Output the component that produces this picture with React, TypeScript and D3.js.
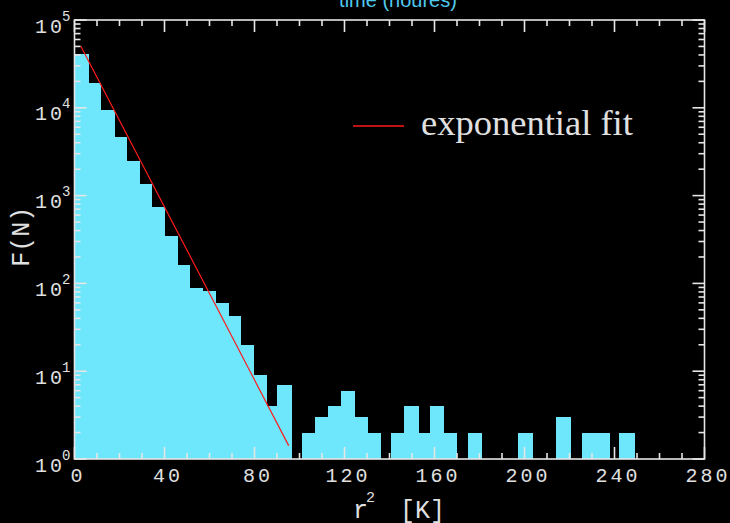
import React from 'react';
import * as d3 from 'd3';

// Histogram bins (r^2 in K) and counts
const binLo = [0, 6.1, 11.8, 17.6, 23.2, 28.8, 34.4, 40.1, 45.9, 51.3, 57.0, 62.7, 68.4, 74.0, 79.6, 85.4, 90.0,
  101.1, 106.9, 112.5, 118.3, 124.7, 130.1,
  140.7, 146.4, 152.8, 158.0, 164.2,
  174.7, 197.2, 214.0, 225.4, 231.5, 242.1];
const binHi = [6.1, 11.8, 17.6, 23.2, 28.8, 34.4, 40.1, 45.9, 51.3, 57.0, 62.7, 68.4, 74.0, 79.6, 85.4, 90.0, 96.4,
  106.9, 112.5, 118.3, 124.7, 130.1, 135.9,
  146.4, 152.8, 158.0, 164.2, 169.9,
  181.0, 203.6, 220.5, 231.5, 237.6, 249.0];
const counts = [41000, 19000, 9400, 4600, 2450, 1370, 740, 347, 162, 88, 83, 60, 42, 20, 9, 4, 7,
  2, 3, 4, 6, 3, 2,
  2, 4, 2, 4, 2,
  2, 2, 3, 2, 2, 2];

const xTickValues = [0, 40, 80, 120, 160, 200, 240, 280];
const xMinorStep = 10;
const yPowers = [0, 1, 2, 3, 4, 5];

// exponential fit (straight on log axis), endpoints
const fitX = [2.76, 95.2];
const fitY = [50600, 1.42];

const titleText = 'time (houres)';
const legendLabel = 'exponential fit';
const xTitleMain = 'r';
const xTitleSup = '2';
const xTitleUnit = '[K]';
const yTitle = 'F(N)';

const AX = '#e6e6e6';
const BAR = '#6ee6fb';
const MONO = '"Liberation Mono", "DejaVu Sans Mono", monospace';

export default function App() {
  const W = 730, H = 523;
  const x = d3.scaleLinear().domain([0, 280]).range([74.5, 704.5]);
  const y = d3.scaleLog().domain([1, 1e5]).range([459, 20]);
  const [x0, x1] = x.range();
  const [yb, yt] = y.range();

  const xMinor = d3.range(0, 281, xMinorStep).filter(v => !xTickValues.includes(v));
  const yMinor: number[] = [];
  for (let p = 0; p < 5; p++) for (let m = 2; m <= 9; m++) yMinor.push(m * Math.pow(10, p));

  const fitLine = d3.line<number>().x((d, i) => x(fitX[i])).y((d, i) => y(fitY[i]));

  return (
    <svg width={W} height={H} style={{ position: 'absolute', left: 0, top: 0, background: '#000', display: 'block' }}>
      <rect x={0} y={0} width={W} height={H} fill="#000" />
      <text x={398} y={7} fill="#4fc8ec" fontFamily='"Liberation Sans", Arial, sans-serif' fontSize={20} textAnchor="middle">{titleText}</text>

      {/* histogram */}
      <g shapeRendering="crispEdges">
        {counts.map((c, i) => (
          <rect key={i} x={x(binLo[i])} y={y(c)} width={x(binHi[i]) - x(binLo[i]) + 0.4} height={yb - y(c)} fill={BAR} />
        ))}
      </g>

      {/* fit line */}
      <path d={fitLine(fitX) || ''} stroke="#ff1a1a" strokeWidth={1.2} fill="none" />

      {/* legend */}
      <line x1={353} x2={404} y1={126} y2={126} stroke="#ff1a1a" strokeWidth={1.3} />
      <text x={421} y={135} fill="#e0e0e0" fontFamily='"Liberation Serif", "Times New Roman", serif' fontSize={36.5}>{legendLabel}</text>

      {/* axes frame */}
      <g stroke={AX} strokeWidth={1.6} fill="none">
        <rect x={x0} y={yt} width={x1 - x0} height={yb - yt} />
        {xTickValues.map(v => (
          <g key={'xt' + v}>
            <line x1={x(v)} x2={x(v)} y1={yb} y2={yb - 12} />
            <line x1={x(v)} x2={x(v)} y1={yt} y2={yt + 12} />
          </g>
        ))}
        {xMinor.map(v => (
          <g key={'xm' + v}>
            <line x1={x(v)} x2={x(v)} y1={yb} y2={yb - 6} />
            <line x1={x(v)} x2={x(v)} y1={yt} y2={yt + 6} />
          </g>
        ))}
        {yPowers.map(p => (
          <g key={'yt' + p}>
            <line x1={x0} x2={x0 + 12} y1={y(Math.pow(10, p))} y2={y(Math.pow(10, p))} />
            <line x1={x1} x2={x1 - 12} y1={y(Math.pow(10, p))} y2={y(Math.pow(10, p))} />
          </g>
        ))}
        {yMinor.map(v => (
          <g key={'ym' + v}>
            <line x1={x0} x2={x0 + 6} y1={y(v)} y2={y(v)} />
            <line x1={x1} x2={x1 - 6} y1={y(v)} y2={y(v)} />
          </g>
        ))}
      </g>

      {/* x tick labels */}
      <g fill="#e0e0e0" fontFamily={MONO} fontSize={20} textAnchor="middle" letterSpacing={3}>
        {xTickValues.map(v => (
          <text key={'xl' + v} x={x(v) + 3.5} y={481.5}>{v}</text>
        ))}
      </g>

      {/* y tick labels */}
      <g fill="#e0e0e0" fontFamily={MONO}>
        {yPowers.map(p => (
          <g key={'yl' + p}>
            <text x={65} y={y(Math.pow(10, p)) + 12.5} fontSize={20} textAnchor="end" letterSpacing={3}>10</text>
            <text x={62} y={y(Math.pow(10, p)) + 0.5} fontSize={14}>{p}</text>
          </g>
        ))}
      </g>

      {/* axis titles */}
      <g fill="#e0e0e0" fontFamily={MONO}>
        <text x={353} y={518} fontSize={25}>{xTitleMain}</text>
        <text x={366} y={502} fontSize={15}>{xTitleSup}</text>
        <text x={400} y={518} fontSize={25}>{xTitleUnit}</text>
        <text transform="translate(28.5,236.7) rotate(-90)" fontSize={25} textAnchor="middle">{yTitle}</text>
      </g>
    </svg>
  );
}
